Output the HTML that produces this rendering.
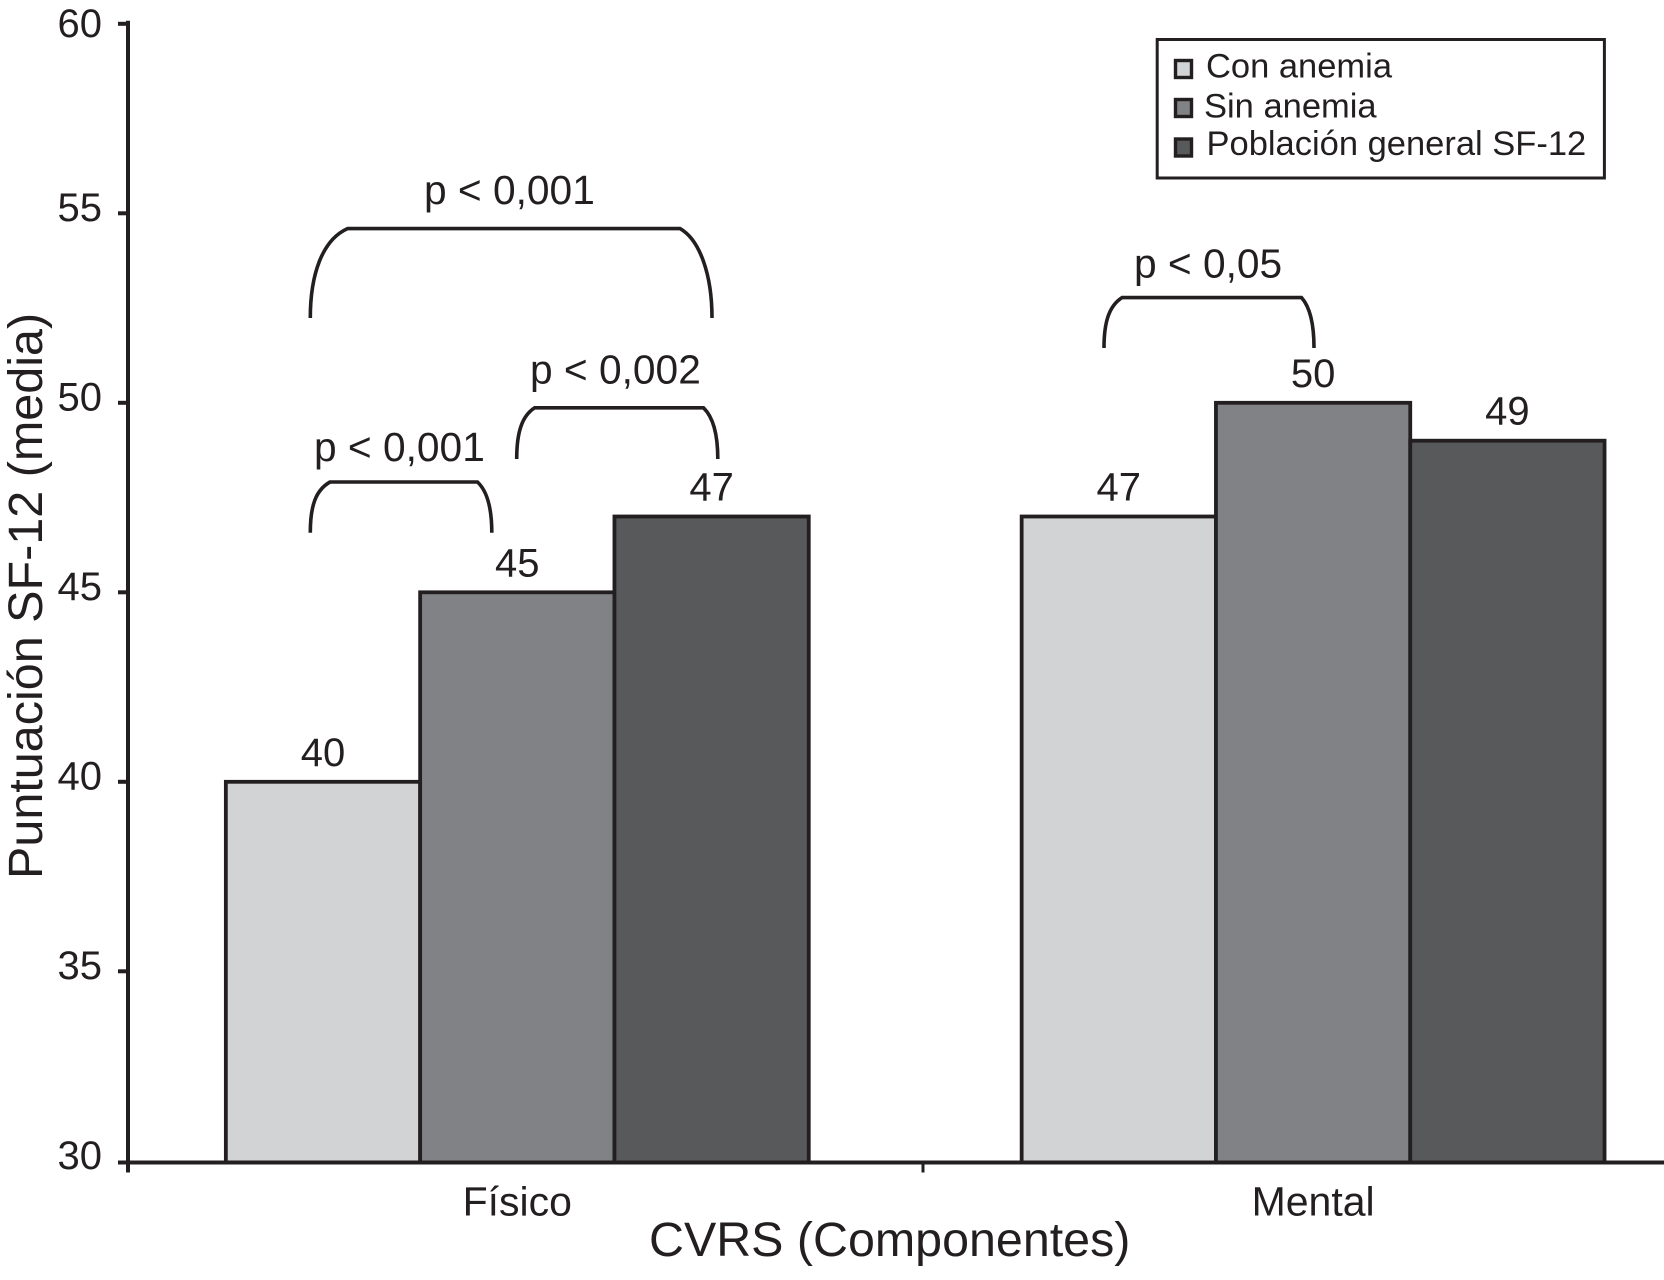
<!DOCTYPE html>
<html lang="es">
<head>
<meta charset="utf-8">
<title>Puntuación SF-12 por componente de CVRS</title>
<style>
  html, body { margin: 0; padding: 0; background: #fff; }
  svg { display: block; }
  text { font-family: "Liberation Sans", Arial, sans-serif; fill: #231f20; }
  .bracket { fill: none; stroke: #231f20; stroke-width: 3.6; }
</style>
</head>
<body>
<svg id="chart" xmlns="http://www.w3.org/2000/svg" width="1664" height="1280" viewBox="0 0 1664 1280">
  <rect x="0" y="0" width="1664" height="1280" fill="#ffffff"/>
  <g id="bars"></g>
  <g id="axes"></g>
  <g id="value-labels"></g>

  <text transform="translate(42 879) rotate(-90)" font-size="48.5">Puntuación SF-12 (media)</text>
  <text x="649" y="1256" font-size="48.4">CVRS (Componentes)</text>

  <g>
    <path class="bracket" d="M310.3 318 C310.3 275 322 240 347.5 228.6 H680 C700 240 712 275 712 318"/>
    <text x="424" y="204" font-size="40.7">p &lt; 0,001</text>
    <path class="bracket" d="M310.3 532.7 C310.3 505 316 490 330 482 H477.5 C486 490 491.8 505 491.8 532.7"/>
    <text x="314" y="461" font-size="40.7">p &lt; 0,001</text>
    <path class="bracket" d="M516.7 459 C516.7 432 522 416 534.7 407.8 H703.5 C712 416 717.8 432 717.8 459"/>
    <text x="530" y="383.7" font-size="40.7">p &lt; 0,002</text>
    <path class="bracket" d="M1104 348 C1104 322 1109 306 1122 297.6 H1301.5 C1309 306 1314 322 1314 348"/>
    <text x="1134" y="277.5" font-size="40.7">p &lt; 0,05</text>
  </g>

  <g>
    <rect x="1157.2" y="39.5" width="447.2" height="138.5" fill="#ffffff" stroke="#231f20" stroke-width="3"/>
    <g>
      <rect x="1175.5" y="60.5" width="16" height="17" fill="#d1d3d4" stroke="#231f20" stroke-width="3.4"/>
      <text x="1206" y="77.5" font-size="34.5">Con anemia</text>
    </g>
    <g>
      <rect x="1175.5" y="99.5" width="16" height="17" fill="#818285" stroke="#231f20" stroke-width="3.4"/>
      <text x="1204" y="117.5" font-size="34.5">Sin anemia</text>
    </g>
    <g>
      <rect x="1175.5" y="139" width="16" height="17" fill="#58595b" stroke="#231f20" stroke-width="3.4"/>
      <text x="1206.5" y="155" font-size="34.5">Población general SF-12</text>
    </g>
  </g>
</svg>

<script>
const categories = ["Físico", "Mental"];
const seriesNames = ["Con anemia", "Sin anemia", "Población general SF-12"];
const conAnemia = [40, 47];
const sinAnemia = [45, 50];
const poblacionGeneral = [47, 49];
const yTickLabels = [30, 35, 40, 45, 50, 55, 60];

const seriesValues = [conAnemia, sinAnemia, poblacionGeneral];
const seriesFills = ["#d1d3d4", "#818285", "#58595b"];
const NS = "http://www.w3.org/2000/svg";
const INK = "#231f20";

// Axis functions
const yMin = 30, yMax = 60, axisY = 1162.5;
function yScale(v) {
  return 402.8 + (50 - v) * 37.9;
}
const firstGroupCenter = 517.3, groupStep = 795.8, barWidth = 194.3;
function barLeft(categoryIndex, seriesIndex) {
  const center = firstGroupCenter + categoryIndex * groupStep;
  return center - seriesValues.length * barWidth / 2 + seriesIndex * barWidth;
}

function make(parent, tag, attrs, content) {
  const el = document.createElementNS(NS, tag);
  for (const k in attrs) el.setAttribute(k, attrs[k]);
  if (content !== undefined) el.textContent = content;
  parent.appendChild(el);
  return el;
}

const barsG = document.getElementById("bars");
const axesG = document.getElementById("axes");
const labelsG = document.getElementById("value-labels");

// Bars and value labels
categories.forEach(function (cat, c) {
  seriesValues.forEach(function (vals, s) {
    const x = barLeft(c, s);
    const y = yScale(vals[c]);
    const bar = make(barsG, "rect", {
      x: x, y: y, width: barWidth, height: axisY - y,
      fill: seriesFills[s], stroke: INK, "stroke-width": 3.8
    });
    
    
    bar.setAttribute('aria-label', cat + " – " + seriesNames[s] + ": " + vals[c]);

    const label = make(labelsG, "text", {
      x: x + barWidth / 2, y: y - 16, "text-anchor": "middle", "font-size": 40
    }, String(vals[c]));
    
    
  });
});

// Y axis
const axisX = 128;
const yAxisLine = make(axesG, "line", {
  x1: axisX, x2: axisX, y1: yScale(yMax) - 3, y2: axisY + 10, stroke: INK, "stroke-width": 4
});



yTickLabels.forEach(function (t) {
  const y = t === yMin ? axisY : yScale(t);
  const tick = make(axesG, "line", {
    x1: axisX - 10, x2: axisX, y1: y, y2: y, stroke: INK, "stroke-width": 4
  });
  
  

  const lab = make(axesG, "text", {
    x: 102, y: y + (t === yMax ? 13 : (t === yMin ? 6.5 : 7.7)), "text-anchor": "end", "font-size": 40
  }, String(t));
  
  
});

// X axis
const xAxisLine = make(axesG, "line", {
  x1: axisX - 10, x2: 1664, y1: axisY, y2: axisY, stroke: INK, "stroke-width": 4
});



const xTick = make(axesG, "line", {
  x1: 923, x2: 923, y1: axisY, y2: axisY + 10, stroke: INK, "stroke-width": 3
});



categories.forEach(function (cat, c) {
  const lab = make(axesG, "text", {
    x: firstGroupCenter + c * groupStep, y: 1215.5, "text-anchor": "middle", "font-size": 41
  }, cat);
  
  
});
</script>
</body>
</html>
